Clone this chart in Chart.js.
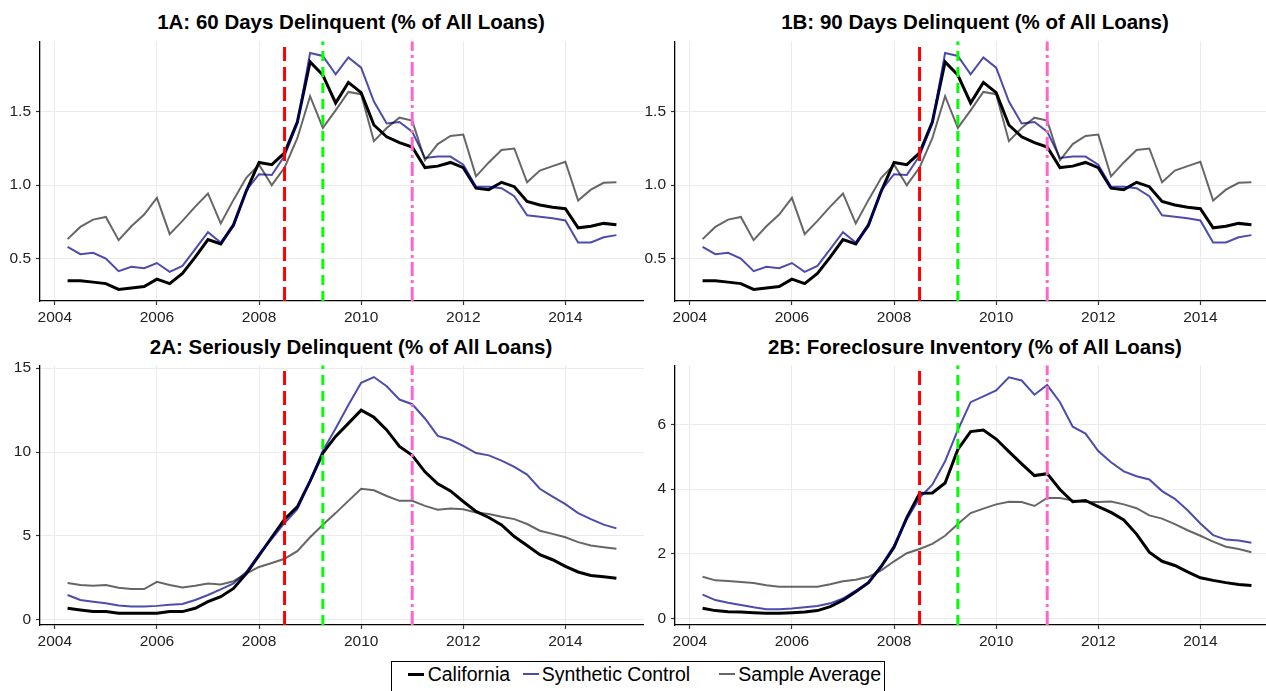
<!DOCTYPE html>
<html><head><meta charset="utf-8">
<script src="https://cdn.jsdelivr.net/npm/chart.js@4.4.0/dist/chart.umd.min.js"></script>
<style>
html,body{margin:0;padding:0;width:1266px;height:691px;overflow:hidden;background:#fff;font-family:"Liberation Sans",Arial,sans-serif;}
canvas.panel{position:absolute;}
.title{position:absolute;font-weight:bold;font-size:20.5px;color:#000;white-space:nowrap;transform:translate(-50%,-50%);line-height:1;}
#legend{position:absolute;left:391px;top:661px;width:494px;height:42px;border:1.4px solid #000;box-sizing:border-box;}
.lg{position:absolute;font-size:19.5px;color:#000;white-space:nowrap;line-height:20px;}
.seg{position:absolute;width:16px;}
</style></head><body>
<div class="title" style="left:351px;top:22px">1A: 60 Days Delinquent (% of All Loans)</div>
<div class="title" style="left:975px;top:22px">1B: 90 Days Delinquent (% of All Loans)</div>
<div class="title" style="left:351px;top:347px">2A: Seriously Delinquent (% of All Loans)</div>
<div class="title" style="left:975px;top:347px">2B: Foreclosure Inventory (% of All Loans)</div>
<canvas id="p1a" class="panel"></canvas>
<canvas id="p1b" class="panel"></canvas>
<canvas id="p2a" class="panel"></canvas>
<canvas id="p2b" class="panel"></canvas>
<div id="legend"></div>
<script>
// ---- data ----
const quarters = [2004.25,2004.5,2004.75,2005,2005.25,2005.5,2005.75,2006,2006.25,2006.5,2006.75,2007,2007.25,2007.5,2007.75,2008,2008.25,2008.5,2008.75,2009,2009.25,2009.5,2009.75,2010,2010.25,2010.5,2010.75,2011,2011.25,2011.5,2011.75,2012,2012.25,2012.5,2012.75,2013,2013.25,2013.5,2013.75,2014,2014.25,2014.5,2014.75,2015];
const seriesNames = ["California","Synthetic Control","Sample Average"];
const eventDates = [2008.5, 2009.25, 2011.0];
const xTicks = [2004,2006,2008,2010,2012,2014];

// 1A: 60 days delinquent
const california60 = [0.35,0.35,0.34,0.33,0.29,0.30,0.31,0.36,0.33,0.40,0.51,0.63,0.60,0.73,0.96,1.155,1.14,1.22,1.43,1.84,1.75,1.56,1.70,1.63,1.41,1.33,1.29,1.26,1.12,1.13,1.155,1.12,0.98,0.97,1.02,0.99,0.89,0.865,0.85,0.84,0.71,0.72,0.74,0.73];
const synthetic60 = [0.58,0.53,0.54,0.50,0.415,0.445,0.435,0.47,0.41,0.45,0.565,0.68,0.61,0.72,0.965,1.075,1.07,1.20,1.42,1.90,1.88,1.755,1.87,1.80,1.57,1.42,1.43,1.365,1.185,1.195,1.195,1.14,0.99,0.99,0.98,0.925,0.795,0.785,0.775,0.76,0.61,0.61,0.645,0.66];
const average60 = [0.633,0.716,0.766,0.784,0.626,0.72,0.80,0.914,0.667,0.757,0.854,0.944,0.74,0.90,1.05,1.14,1.00,1.12,1.32,1.606,1.39,1.51,1.635,1.62,1.30,1.39,1.46,1.44,1.17,1.28,1.335,1.345,1.06,1.155,1.24,1.25,1.02,1.10,1.13,1.16,0.896,0.97,1.016,1.02];
// 1B: 90 days delinquent
const california90 = [0.35,0.35,0.34,0.33,0.29,0.30,0.31,0.36,0.33,0.40,0.51,0.63,0.60,0.73,0.96,1.155,1.14,1.22,1.43,1.84,1.75,1.56,1.70,1.63,1.41,1.33,1.29,1.26,1.12,1.13,1.155,1.12,0.98,0.97,1.02,0.99,0.89,0.865,0.85,0.84,0.71,0.72,0.74,0.73];
const synthetic90 = [0.58,0.53,0.54,0.50,0.415,0.445,0.435,0.47,0.41,0.45,0.565,0.68,0.61,0.72,0.965,1.075,1.07,1.20,1.42,1.90,1.88,1.755,1.87,1.80,1.57,1.42,1.43,1.365,1.185,1.195,1.195,1.14,0.99,0.99,0.98,0.925,0.795,0.785,0.775,0.76,0.61,0.61,0.645,0.66];
const average90 = [0.633,0.716,0.766,0.784,0.626,0.72,0.80,0.914,0.667,0.757,0.854,0.944,0.74,0.90,1.05,1.14,1.00,1.12,1.32,1.606,1.39,1.51,1.635,1.62,1.30,1.39,1.46,1.44,1.17,1.28,1.335,1.345,1.06,1.155,1.24,1.25,1.02,1.10,1.13,1.16,0.896,0.97,1.016,1.02];
// 2A: seriously delinquent
const californiaSD = [0.69,0.59,0.49,0.49,0.39,0.39,0.39,0.39,0.49,0.49,0.69,1.08,1.38,1.87,2.76,3.84,4.92,6.00,6.73,8.27,9.94,10.93,11.71,12.5,12.07,11.32,10.33,9.80,8.82,8.11,7.68,7.05,6.46,6.10,5.65,4.96,4.43,3.88,3.58,3.19,2.85,2.64,2.56,2.48];
const syntheticSD = [1.48,1.18,1.08,0.98,0.85,0.79,0.79,0.83,0.89,0.94,1.18,1.48,1.81,2.17,2.85,3.90,4.82,5.77,6.59,8.27,10.08,11.4,12.8,14.13,14.47,13.92,13.13,12.85,12.0,10.96,10.73,10.37,9.94,9.80,9.49,9.11,8.66,7.81,7.34,6.89,6.36,6.00,5.67,5.45];
const averageSD = [2.20,2.07,2.03,2.07,1.91,1.83,1.83,2.26,2.07,1.93,2.03,2.17,2.11,2.30,2.76,3.15,3.39,3.64,4.09,4.92,5.67,6.36,7.09,7.81,7.72,7.38,7.09,7.09,6.79,6.56,6.63,6.59,6.40,6.30,6.14,6.00,5.71,5.31,5.12,4.92,4.63,4.43,4.33,4.23];
// 2B: foreclosure inventory
const californiaFC = [0.32,0.245,0.21,0.20,0.18,0.16,0.16,0.18,0.20,0.245,0.37,0.57,0.83,1.11,1.61,2.20,3.12,3.87,3.88,4.19,5.23,5.78,5.83,5.55,5.16,4.78,4.42,4.48,3.99,3.61,3.65,3.46,3.28,3.05,2.61,2.05,1.77,1.64,1.44,1.26,1.18,1.11,1.05,1.02];
const syntheticFC = [0.74,0.57,0.49,0.42,0.35,0.29,0.29,0.31,0.35,0.39,0.47,0.62,0.86,1.13,1.64,2.26,3.07,3.73,4.14,4.86,5.83,6.69,6.87,7.05,7.46,7.36,6.92,7.22,6.69,5.93,5.72,5.18,4.83,4.55,4.40,4.30,3.94,3.70,3.35,2.94,2.58,2.44,2.41,2.34];
const averageFC = [1.29,1.18,1.16,1.13,1.10,1.03,0.98,0.98,0.98,0.98,1.06,1.15,1.20,1.29,1.49,1.77,2.02,2.15,2.31,2.56,2.92,3.26,3.40,3.53,3.61,3.60,3.48,3.73,3.73,3.65,3.60,3.60,3.62,3.53,3.41,3.19,3.09,2.92,2.73,2.56,2.38,2.22,2.15,2.05];

const yTicks60 = [0.5,1.0,1.5];
const yTicksSD = [0,5,10,15];
const yTicksFC = [0,2,4,6];

// ---- styles ----
const FONT = '"Liberation Sans", Arial, sans-serif';
const seriesStyles = [
  {color:'#000000', width:3, order:3},
  {color:'rgba(0,0,139,0.70)', width:2, order:2},
  {color:'rgba(0,0,0,0.60)', width:2, order:1}
];
const eventStyles = [
  {color:'#ff0000', dash:[14,6]},
  {color:'#00ff00', dash:[10,6]},
  {color:'#ff66cc', dash:[14,4,3,4]}
];
const X_MIN = 2003.71, X_MAX = 2015.54;
const Y_AXIS_W = 40, X_AXIS_H = 30, PAD_TOP = 12, PLOT_W = 604, PLOT_H = 262;

function makePanel(id, chartLeft, chartTop, series, yMin, yMax, yTicks, decimals){
  const cv = document.getElementById(id);
  cv.width = Y_AXIS_W + PLOT_W;
  cv.height = PAD_TOP + PLOT_H + X_AXIS_H;
  cv.style.left = (chartLeft - Y_AXIS_W) + 'px';
  cv.style.top = (chartTop - PAD_TOP) + 'px';
  const datasets = [];
  eventDates.forEach((d,i) => {
    datasets.push({
      label:'event'+i,
      data:[{x:d,y:yMin},{x:d,y:yMax}],
      borderColor:eventStyles[i].color, borderWidth:3, borderDash:eventStyles[i].dash,
      borderCapStyle:'butt', pointRadius:0, order:0, fill:false
    });
  });
  series.forEach((vals,i) => {
    datasets.push({
      label:seriesNames[i],
      data:quarters.map((q,k)=>({x:q,y:vals[k]})),
      borderColor:seriesStyles[i].color, borderWidth:seriesStyles[i].width,
      pointRadius:0, tension:0, order:seriesStyles[i].order, fill:false,
      borderJoinStyle:'miter'
    });
  });
  new Chart(cv, {
    type:'line',
    data:{datasets},
    options:{
      responsive:false, animation:false, devicePixelRatio:1,
      layout:{padding:{top:PAD_TOP,right:0,bottom:0,left:0}},
      plugins:{legend:{display:false}, tooltip:{enabled:false}},
      scales:{
        x:{
          type:'linear', min:X_MIN, max:X_MAX,
          afterBuildTicks:s=>{ s.ticks = xTicks.map(v=>({value:v})); },
          afterFit:s=>{ s.height = X_AXIS_H; },
          ticks:{callback:v=>String(v), color:'#222', font:{family:FONT,size:15.5}, padding:3, maxRotation:0, autoSkip:false},
          grid:{color:'#ebebeb', lineWidth:1, drawTicks:true, tickLength:4, tickColor:'#333', tickWidth:1.2},
          border:{display:true, color:'#000', width:1.3}
        },
        y:{
          type:'linear', min:yMin, max:yMax,
          afterBuildTicks:s=>{ s.ticks = yTicks.map(v=>({value:v})); },
          afterFit:s=>{ s.width = Y_AXIS_W; },
          ticks:{callback:v=>decimals? Number(v).toFixed(decimals) : String(v), color:'#222', font:{family:FONT,size:15.5}, padding:5, autoSkip:false},
          grid:{color:'#ebebeb', lineWidth:1, drawTicks:true, tickLength:4, tickColor:'#333', tickWidth:1.2},
          border:{display:true, color:'#000', width:1.3}
        }
      }
    }
  });
}

makePanel('p1a', 40, 39, [california60, synthetic60, average60], 0.2115, 1.98, yTicks60, 1);
makePanel('p1b', 675, 39, [california90, synthetic90, average90], 0.2115, 1.98, yTicks60, 1);
makePanel('p2a', 40, 363, [californiaSD, syntheticSD, averageSD], -0.31, 15.17, yTicksSD, 0);
makePanel('p2b', 675, 363, [californiaFC, syntheticFC, averageFC], -0.2, 7.83, yTicksFC, 0);

// legend (HTML text)
const legendItems = [
  {seg:16, text:35.7, color:'#000000', h:3},
  {seg:130.7, text:149.7, color:'rgba(0,0,139,0.70)', h:2},
  {seg:326.7, text:346.3, color:'rgba(0,0,0,0.60)', h:2}
];
const lg = document.getElementById('legend');
seriesNames.forEach((name,i)=>{
  const it = legendItems[i];
  const s = document.createElement('div');
  s.className='seg';
  s.style.left = it.seg+'px'; s.style.top = (12 - it.h/2)+'px';
  s.style.height = it.h+'px'; s.style.background = it.color;
  lg.appendChild(s);
  const t = document.createElement('div');
  t.className='lg'; t.textContent = name;
  t.style.left = it.text+'px'; t.style.top = '2px';
  lg.appendChild(t);
});
</script>
</body></html>
